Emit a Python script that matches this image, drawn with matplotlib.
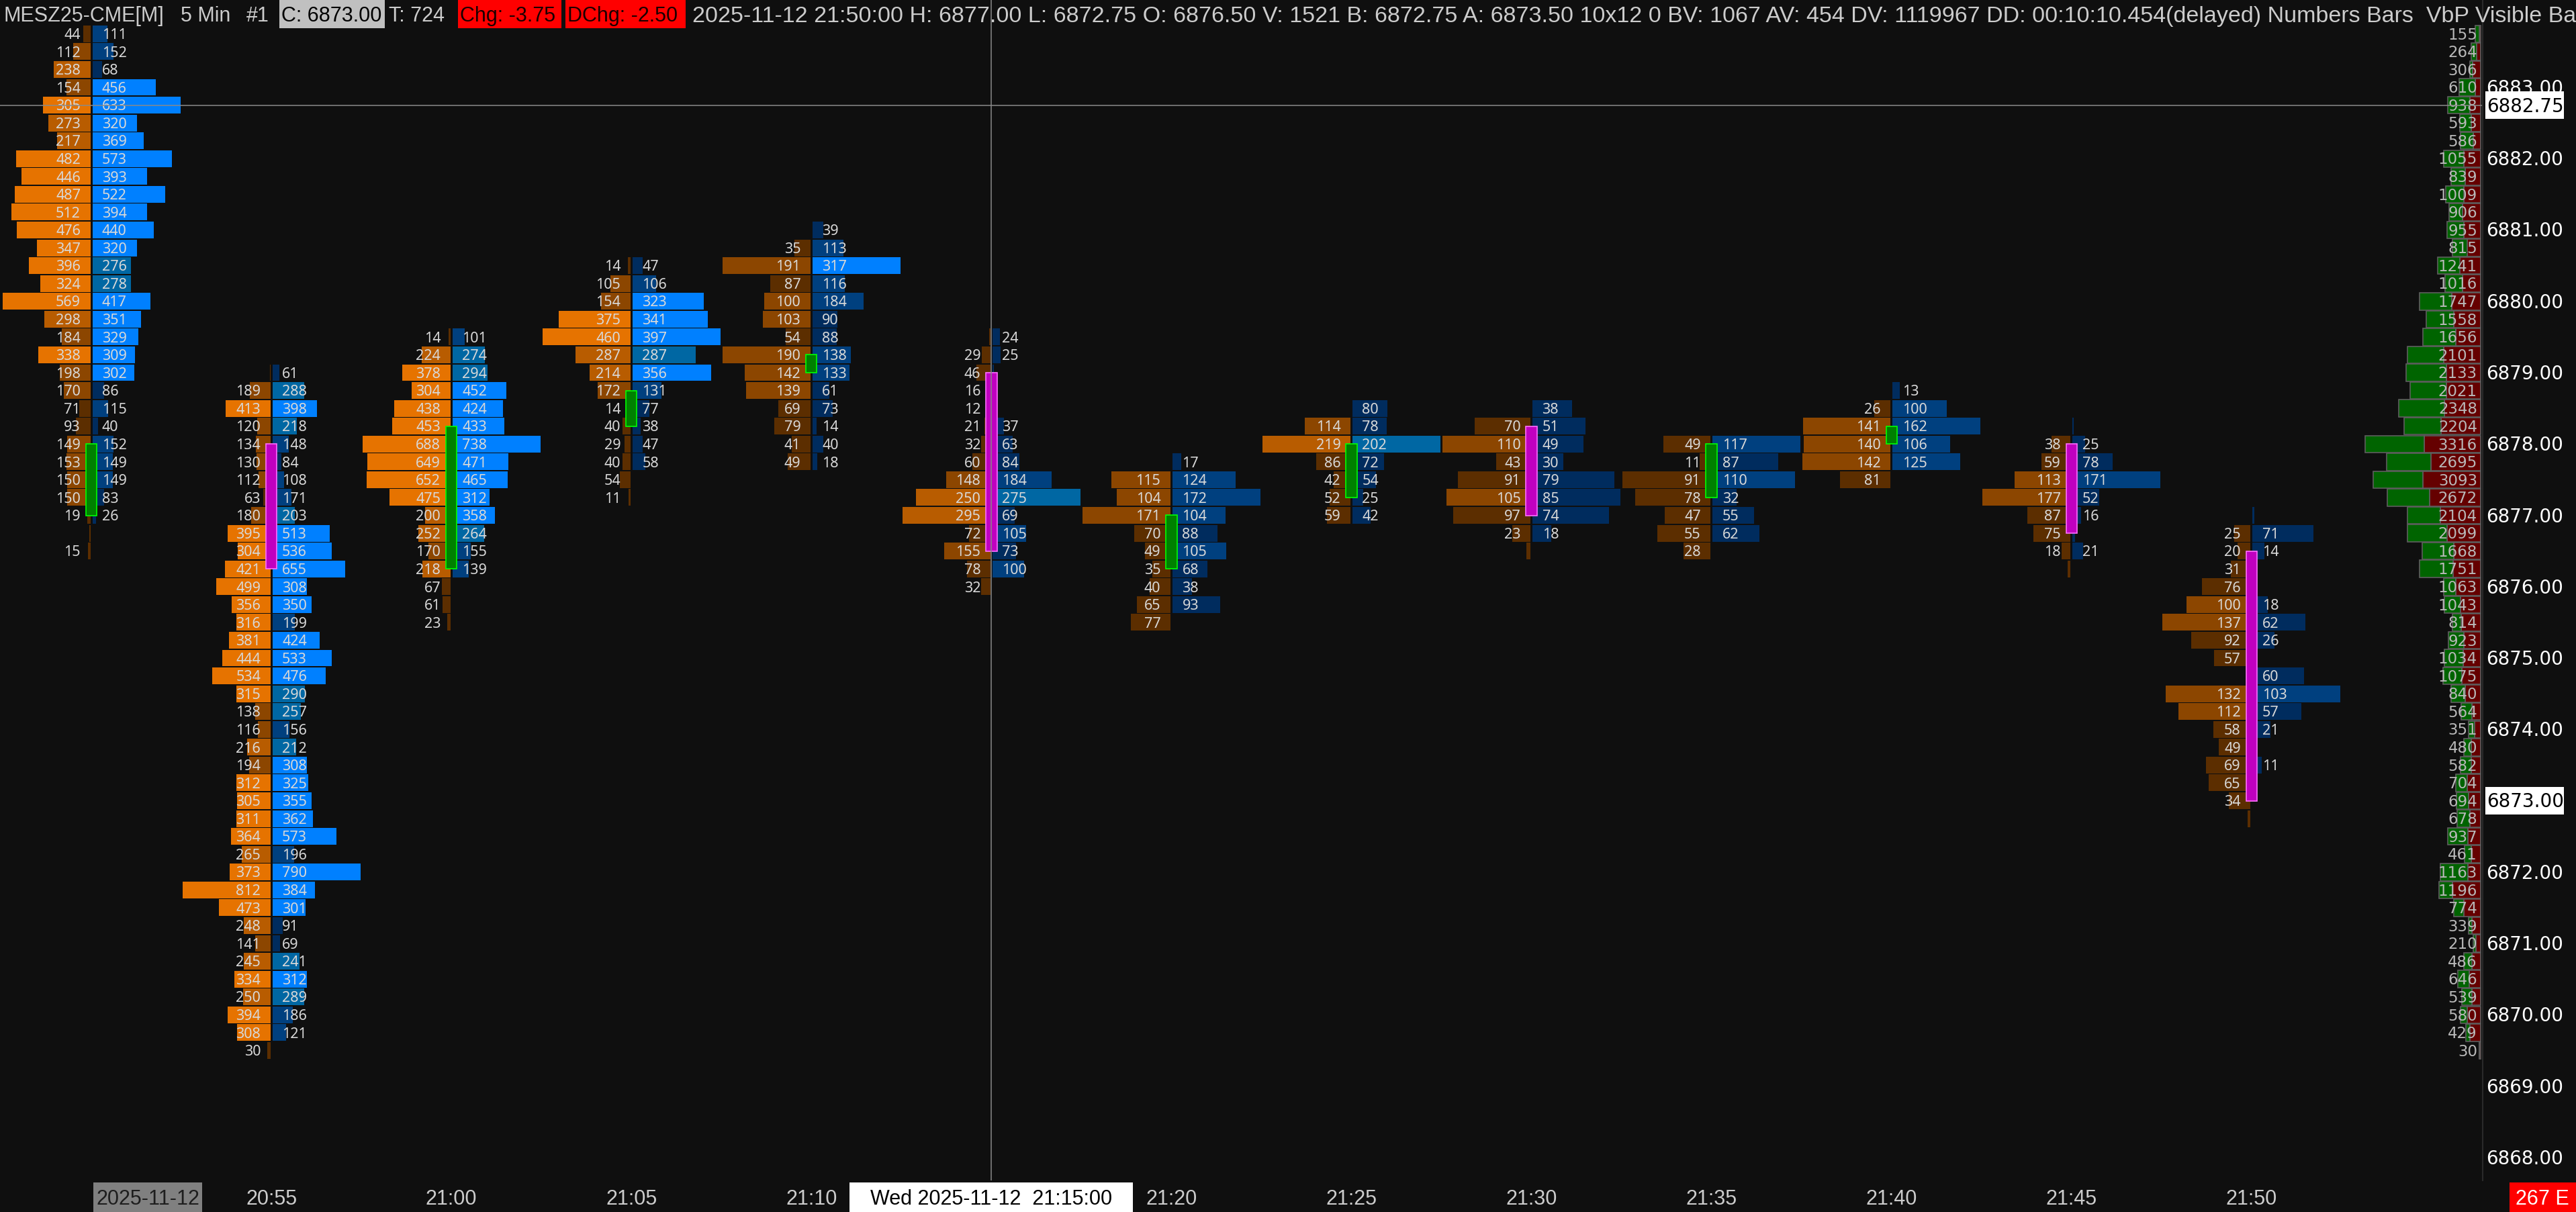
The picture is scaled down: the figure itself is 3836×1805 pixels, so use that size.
import matplotlib
matplotlib.use('Agg')
import matplotlib.pyplot as plt
import matplotlib.transforms as mtransforms
from matplotlib.patches import Rectangle
from matplotlib import font_manager as fm

# ---------------- data ----------------
TICK = 0.25
time_labels = ['20:50', '20:55', '21:00', '21:05', '21:10', '21:15', '21:20',
               '21:25', '21:30', '21:35', '21:40', '21:45', '21:50']
opens  = [6877.00, 6878.00, 6876.25, 6878.25, 6879.00, 6879.00, 6876.25,
          6877.25, 6878.25, 6877.25, 6878.00, 6878.00, 6876.50]
closes = [6878.00, 6876.25, 6878.25, 6878.75, 6879.25, 6876.50, 6877.00,
          6878.00, 6877.00, 6878.00, 6878.25, 6876.75, 6873.00]
# price of the first (top) row of each footprint column
tops   = [6883.75, 6879.00, 6879.50, 6880.50, 6881.00, 6879.50, 6877.75,
          6878.50, 6878.50, 6878.00, 6878.75, 6878.25, 6877.00]

bid0 = [44, 112, 238, 154, 305, 273, 217, 482, 446, 487, 512, 476, 347, 396, 324,
        569, 298, 184, 338, 198, 170, 71, 93, 149, 153, 150, 150, 19, 6, 15]
ask0 = [111, 152, 68, 456, 633, 320, 369, 573, 393, 522, 394, 440, 320, 276, 278,
        417, 351, 329, 309, 302, 86, 115, 40, 152, 149, 149, 83, 26, None, None]
bid1 = [5, 189, 413, 120, 134, 130, 112, 63, 180, 395, 304, 421, 499, 356, 316, 381,
        444, 534, 315, 138, 116, 216, 194, 312, 305, 311, 364, 265, 373, 812, 473,
        248, 141, 245, 334, 250, 394, 308, 30]
ask1 = [61, 288, 398, 218, 148, 84, 108, 171, 203, 513, 536, 655, 308, 350, 199, 424,
        533, 476, 290, 257, 156, 212, 308, 325, 355, 362, 573, 196, 790, 384, 301,
        91, 69, 241, 312, 289, 186, 121, None]
bid2 = [14, 224, 378, 304, 438, 453, 688, 649, 652, 475, 200, 252, 170, 218, 67, 61, 23]
ask2 = [101, 274, 294, 452, 424, 433, 738, 471, 465, 312, 358, 264, 155, 139,
        None, None, None]
bid3 = [14, 105, 154, 375, 460, 287, 214, 172, 14, 40, 29, 40, 54, 11]
ask3 = [47, 106, 323, 341, 397, 287, 356, 131, 77, 38, 47, 58, None, None]
bid4 = [None, 35, 191, 87, 100, 103, 54, 190, 142, 139, 69, 79, 41, 49]
ask4 = [39, 113, 317, 116, 184, 90, 88, 138, 133, 61, 73, 14, 40, 18]
bid5 = [5, 29, 46, 16, 12, 21, 32, 60, 148, 250, 295, 72, 155, 78, 32]
ask5 = [24, 25, 4, None, None, 37, 63, 84, 184, 275, 69, 105, 73, 100, None]
bid6 = [None, 115, 104, 171, 70, 49, 35, 40, 65, 77]
ask6 = [17, 124, 172, 104, 88, 105, 68, 38, 93, None]
bid7 = [None, 114, 219, 86, 42, 52, 59]
ask7 = [80, 78, 202, 72, 54, 25, 42]
bid8 = [None, 70, 110, 43, 91, 105, 97, 23, 5]
ask8 = [38, 51, 49, 30, 79, 85, 74, 18, None]
bid9 = [49, 11, 91, 78, 47, 55, 28]
ask9 = [117, 87, 110, 32, 55, 62, None]
bid10 = [None, 26, 141, 140, 142, 81]
ask10 = [13, 100, 162, 106, 125, None]
bid11 = [None, 38, 59, 113, 177, 87, 75, 18, 6]
ask11 = [2, 25, 78, 171, 52, 16, 5, 21, None]
bid12 = [None, 25, 20, 31, 76, 100, 137, 92, 57, 5, 132, 112, 58, 49, 69, 65, 34, 5]
ask12 = [2, 71, 14, None, 3, 18, 62, 26, None, 60, 103, 57, 21, 3, 11, 2, None, None]

bids = [bid0, bid1, bid2, bid3, bid4, bid5, bid6, bid7, bid8, bid9, bid10, bid11, bid12]
asks = [ask0, ask1, ask2, ask3, ask4, ask5, ask6, ask7, ask8, ask9, ask10, ask11, ask12]

price_labels = list(range(6868, 6884))
crosshair_price = 6882.75
last_price = 6873.00
crosshair_col = 5

header_items = [
    (6, 'MESZ25-CME[M]', None), (269, '5 Min', None), (367, '#1', None),
    (416, 'C: 6873.00', ('#c0c0c0', '#000000', 573)), (579, 'T: 724', None),
    (682, 'Chg: -3.75', ('#ff0000', '#1a0000', 836)),
    (842, 'DChg: -2.50', ('#ff0000', '#1a0000', 1021)),
]
# status string as far as the reference shows it (cut at the right edge)
header_rest = ('2025-11-12 21:50:00 H: 6877.00 L: 6872.75 O: 6876.50 V: 1521 '
               'B: 6872.75 A: 6873.50 10x12 0 BV: 1067 AV: 454 DV: 1119967 '
               'DD: 00:10:10.454(delayed) Numbers Bars  VbP Visible Ba')

# ---------------- layout / style ----------------
W, H, DPI = 3836, 1805, 100
BG = '#0f0f0f'
COL0_X, COL_W = 136.0, 268.07          # px of column 0 centre, px per column
P_REF, P_REF_Y, PX_PER_PT = 6883.0, 130.0, 106.25
AX_RIGHT, AX_BOTTOM = 3697, 1758
UX, UY = 1.0 / COL_W, 1.0 / PX_PER_PT

BID_PAL = ['#e67300', '#b85c00', '#8c4600', '#5c2e00']
ASK_PAL = ['#0080ff', '#0067a3', '#00407f', '#002c5e']
TXT = '#d8d8d8'

names = {f.name for f in fm.fontManager.ttflist}
if 'Liberation Sans Narrow' in names:
    HFONT, HSIZE = 'Liberation Sans Narrow', 27
else:
    HFONT, HSIZE = 'Liberation Sans', 22
NFONT, NSIZE = 'Noto Sans', 15.5
PFONT, PSIZE = 'DejaVu Sans', 16.5
YFONT, YSIZE = 'DejaVu Sans', 20


def em(pt):
    return pt * DPI / 72.0


def shade(v, pal):
    if v >= 300:
        return pal[0]
    if v >= 200:
        return pal[1]
    if v >= 100:
        return pal[2]
    return pal[3]


fig = plt.figure(figsize=(W / DPI, H / DPI), dpi=DPI)
fig.patch.set_facecolor(BG)
ax = fig.add_axes([0, (H - AX_BOTTOM) / H, AX_RIGHT / W, AX_BOTTOM / H])
ax.set_facecolor(BG)
ax.set_xlim(-COL0_X * UX, (AX_RIGHT - COL0_X) * UX)
ax.set_ylim(P_REF - (AX_BOTTOM - P_REF_Y) * UY, P_REF + P_REF_Y * UY)
for s in ax.spines.values():
    s.set_visible(False)
ax.set_xticks([])
ax.set_yticks([])

# pixel transform (x from left, y from top)
T = mtransforms.Affine2D().scale(1.0 / W, -1.0 / H).translate(0, 1) + fig.transFigure

MAXW = 131 * UX
GAP = 1.5 * UX
BAR_H = TICK * 0.94
TXT_OFF = 16 * UX
nb = 0.36 * em(NSIZE) * UY

# ---------------- footprint columns ----------------
for i in range(len(bids)):
    prices = [tops[i] - k * TICK for k in range(len(bids[i]))]
    bmax = max(v for v in bids[i] if v is not None)
    amax = max(v for v in asks[i] if v is not None)
    bp = [(p, v) for p, v in zip(prices, bids[i]) if v is not None]
    ap = [(p, v) for p, v in zip(prices, asks[i]) if v is not None]
    ax.barh([p for p, _ in bp], [-v / bmax * MAXW for _, v in bp], left=i - GAP,
            height=BAR_H, color=[shade(v, BID_PAL) for _, v in bp], linewidth=0, zorder=2)
    ax.barh([p for p, _ in ap], [v / amax * MAXW for _, v in ap], left=i + GAP,
            height=BAR_H, color=[shade(v, ASK_PAL) for _, v in ap], linewidth=0, zorder=2)
    # candle body
    o, c = opens[i], closes[i]
    up = c > o
    ax.add_patch(Rectangle((i - 8.2 * UX, min(o, c)), 16.4 * UX, abs(c - o),
                           facecolor='#008000' if up else '#c000c0',
                           edgecolor='#00ff00' if up else '#ff70ff',
                           linewidth=1.2, zorder=3))
    for p, v in bp:
        if v >= 10:
            ax.text(i - TXT_OFF, p - nb, str(v), ha='right', va='baseline',
                    fontsize=NSIZE, family=NFONT, color=TXT, zorder=4)
    for p, v in ap:
        if v >= 10:
            ax.text(i + TXT_OFF, p - nb, str(v), ha='left', va='baseline',
                    fontsize=NSIZE, family=NFONT, color=TXT, zorder=4)

# ---------------- volume by price (visible bars) ----------------
vbp = {}
for i in range(len(bids)):
    for k, (b, a) in enumerate(zip(bids[i], asks[i])):
        p = round(tops[i] - k * TICK, 2)
        d = vbp.setdefault(p, [0, 0])
        d[0] += b or 0
        d[1] += a or 0
vmax = max(b + a for b, a in vbp.values())
PROF_R = (3694 - COL0_X) * UX
PROF_W = 172 * UX
pb = 0.36 * em(PSIZE) * UY
for p, (b, a) in sorted(vbp.items()):
    rw = b / vmax * PROF_W
    gw = a / vmax * PROF_W
    ax.barh(p, -rw, left=PROF_R, height=TICK * 0.96, color='#650000',
            edgecolor='#5e5e5e', linewidth=1.2, zorder=2)
    ax.barh(p, -gw, left=PROF_R - rw, height=TICK * 0.96, color='#006400',
            edgecolor='#5e5e5e', linewidth=1.2, zorder=2)
    ax.text(PROF_R - 5 * UX, p - pb, str(b + a), ha='right', va='baseline',
            fontsize=PSIZE, family=PFONT, color='#b8b8b8', zorder=4)

# ---------------- crosshair ----------------
ax.axvline(crosshair_col, color='#8a8a8a', linewidth=1.1, zorder=5)
ax.axhline(crosshair_price, color='#8a8a8a', linewidth=1.1, zorder=5)

# separator of price scale
fig.add_artist(plt.Line2D([AX_RIGHT, AX_RIGHT], [0, AX_BOTTOM], transform=T,
                          color='#2a2a2a', linewidth=1.5))

# ---------------- price scale ----------------
def price_y(p):
    return P_REF_Y + (P_REF - p) * PX_PER_PT

yb = 0.36 * em(YSIZE)
for p in price_labels:
    fig.text(3702, price_y(p) + yb, f'{p:.2f}', transform=T, ha='left', va='baseline',
             fontsize=YSIZE, family=YFONT, color='#ffffff')
for p in (crosshair_price, last_price):
    yc = price_y(p)
    fig.add_artist(Rectangle((3701, yc - 20.5), 117, 41, transform=T,
                             facecolor='#ffffff', edgecolor='none'))
    fig.text(3703, yc + yb, f'{p:.2f}', transform=T, ha='left', va='baseline',
             fontsize=YSIZE, family=YFONT, color='#000000')

# ---------------- header ----------------
hb = 0.36 * em(HSIZE)
HY = 21
for x, s, box in header_items:
    if box is not None:
        fc, tc, x2 = box
        ax.add_patch(Rectangle((x, 0), x2 - x, 42, transform=T, facecolor=fc,
                               edgecolor='none', zorder=6))
        ax.text(x + 3, HY + hb, s, transform=T, ha='left', va='baseline',
                fontsize=HSIZE, family=HFONT, color=tc, zorder=7, clip_on=True)
    else:
        ax.text(x, HY + hb, s, transform=T, ha='left', va='baseline',
                fontsize=HSIZE, family=HFONT, color='#cccccc', zorder=7, clip_on=True)

# the long status string: sized so that it ends just inside the right edge
renderer = fig.canvas.get_renderer()
probe = fig.text(0, 0, header_rest, fontsize=HSIZE, family=HFONT)
wprobe = probe.get_window_extent(renderer).width
probe.remove()
REST_X0, REST_X1 = 1031, W - 4
rsize = HSIZE * (REST_X1 - REST_X0) / wprobe
fig.text(REST_X0, HY + 0.36 * em(rsize), header_rest, transform=T, ha='left',
         va='baseline', fontsize=rsize, family=HFONT, color='#cccccc', zorder=7)

# ---------------- time scale ----------------
TY = 1783
for i, lab in enumerate(time_labels):
    if i == 0 or i == crosshair_col:
        continue
    fig.text(COL0_X + i * COL_W, TY + hb, lab, transform=T, ha='center', va='baseline',
             fontsize=HSIZE, family=HFONT, color='#cccccc')
fig.add_artist(Rectangle((139, 1761), 162, 44, transform=T, facecolor='#808080',
                         edgecolor='none'))
fig.text(220, TY + hb, '2025-11-12', transform=T, ha='center', va='baseline',
         fontsize=HSIZE, family=HFONT, color='#1e1e1e')
cx = COL0_X + crosshair_col * COL_W
fig.add_artist(Rectangle((cx - 211, 1761), 422, 44, transform=T, facecolor='#ffffff',
                         edgecolor='none'))
fig.text(cx, TY + hb, 'Wed 2025-11-12  21:15:00', transform=T, ha='center',
         va='baseline', fontsize=HSIZE, family=HFONT, color='#000000')
fig.add_artist(Rectangle((3737, 1761), 99, 44, transform=T, facecolor='#ff0000',
                         edgecolor='none'))
fig.text(3786, TY + hb, '267 E', transform=T, ha='center', va='baseline',
         fontsize=HSIZE, family=HFONT, color='#ffffff')

fig.savefig('out.png', dpi=DPI, facecolor=BG)
